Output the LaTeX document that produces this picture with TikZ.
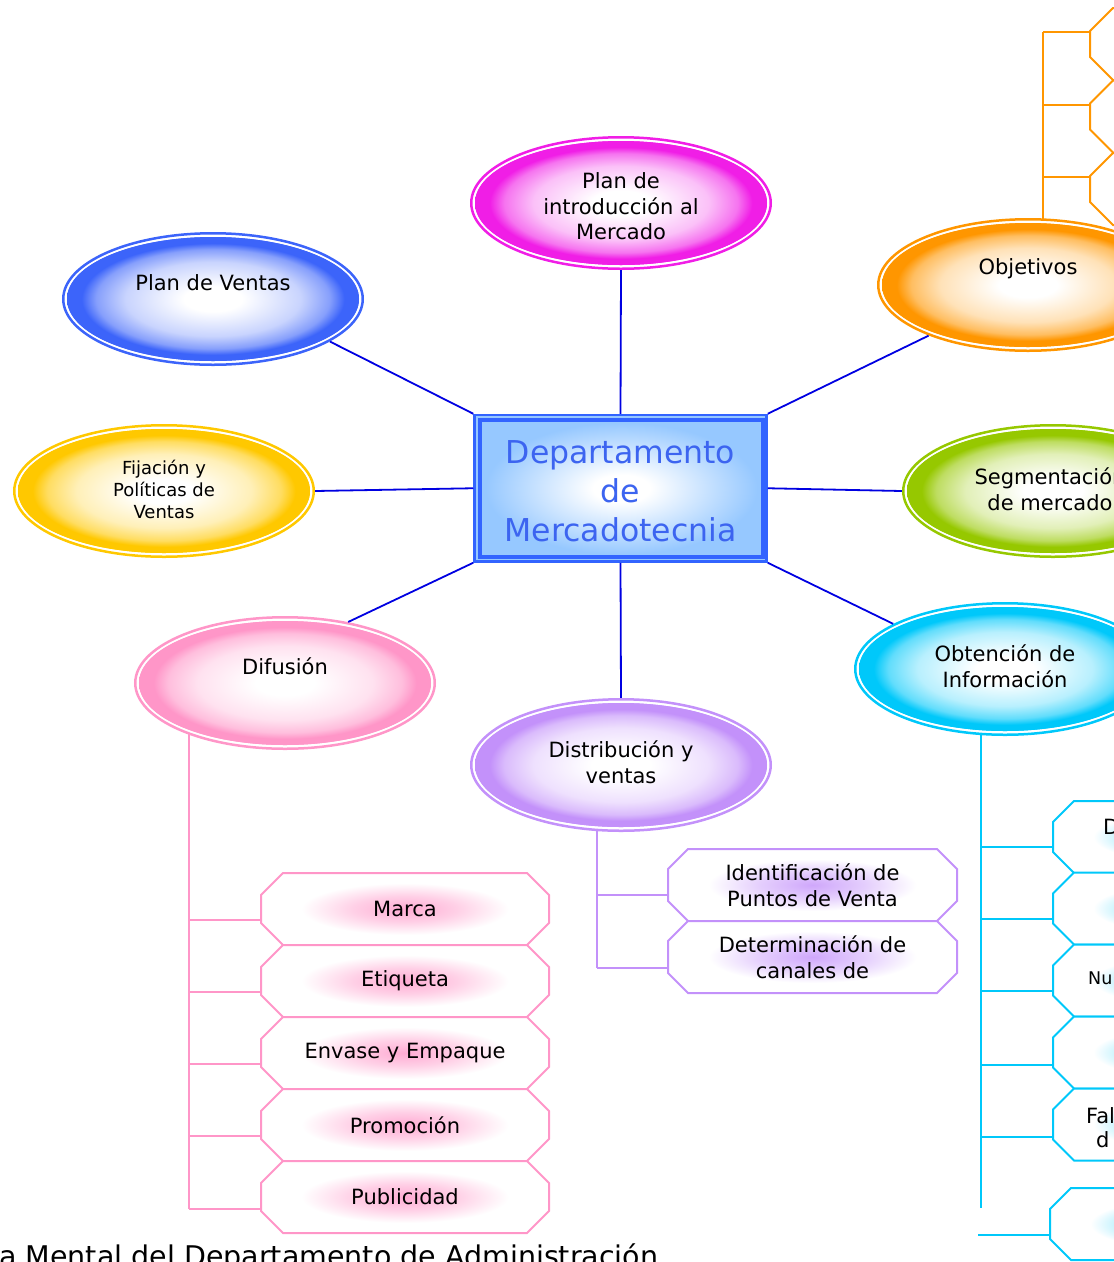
\documentclass[tikz,border=0pt]{standalone}
\usepackage{fontspec}
\setmainfont{DejaVu Sans}
\usetikzlibrary{shapes.geometric}
\definecolor{cMag}{RGB}{240,30,230}
\definecolor{cBlu}{RGB}{60,100,250}
\definecolor{cOra}{RGB}{255,150,0}
\definecolor{cYel}{RGB}{255,200,0}
\definecolor{cGre}{RGB}{150,200,0}
\definecolor{cPnk}{RGB}{255,150,200}
\definecolor{cPur}{RGB}{195,145,250}
\definecolor{cCya}{RGB}{0,200,250}
\definecolor{cLink}{RGB}{0,0,225}
\definecolor{cBoxLine}{RGB}{50,100,255}
\definecolor{cBoxFill}{RGB}{150,200,255}
\definecolor{cBoxText}{RGB}{60,100,240}
\newcommand\mkbub[1]{%
  \pgfdeclareradialshading{bub#1}{\pgfpoint{0bp}{0bp}}{color(0bp)=(white);color(5bp)=(white);color(15bp)=(#1!28!white);color(20bp)=(#1!62!white);color(22.5bp)=(#1);color(50bp)=(#1)}%
  \pgfdeclareradialshading{glow#1}{\pgfpoint{0bp}{0bp}}{color(0bp)=(#1!80!white);color(9bp)=(#1!45!white);color(18bp)=(white);color(50bp)=(white)}}
\mkbub{cMag}\mkbub{cBlu}\mkbub{cOra}\mkbub{cYel}\mkbub{cGre}\mkbub{cPnk}\mkbub{cPur}\mkbub{cCya}
\pgfdeclareradialshading{deptsh}{\pgfpoint{0bp}{0bp}}{color(0bp)=(white);color(5bp)=(white);color(24bp)=(cBoxFill);color(50bp)=(cBoxFill)}
\newcommand\bubble[4]{%
  \node[bubnode] (#1) at (#2,#3) {};
  \draw[#4, line width=2.5pt] (#2,#3) ellipse (149.75pt and 65.75pt);
  \shade[shading=bub#4] (#2,#3) ellipse (146pt and 62pt);
  \draw[#4, line width=3.5pt] (#2,#3) ellipse (144.25pt and 60.25pt);
}
% name, cx, cy, halfwidth, color, text, chamfer
\newcommand\octo[7]{%
  \shade[shading=glow#5]
    ({#2-#4+#7},{#3-36}) -- ({#2+#4-#7},{#3-36}) -- ({#2+#4},{#3-36+#7}) -- ({#2+#4},{#3+36-#7})
    -- ({#2+#4-#7},{#3+36}) -- ({#2-#4+#7},{#3+36}) -- ({#2-#4},{#3+36-#7}) -- ({#2-#4},{#3-36+#7}) -- cycle;
  \draw[#5, line width=2pt]
    ({#2-#4+#7},{#3-36}) -- ({#2+#4-#7},{#3-36}) -- ({#2+#4},{#3-36+#7}) -- ({#2+#4},{#3+36-#7})
    -- ({#2+#4-#7},{#3+36}) -- ({#2-#4+#7},{#3+36}) -- ({#2-#4},{#3+36-#7}) -- ({#2-#4},{#3-36+#7}) -- cycle;
  \node[boxtxt, minimum width={2*#4pt}, minimum height=72pt] (#1) at (#2,#3) {#6};
}
\begin{document}
\begin{tikzpicture}[x=1pt,y=-1pt,
  conn/.style={draw=cLink, line width=1.8pt},
  bubnode/.style={ellipse, minimum width=302pt, minimum height=134pt, inner sep=0pt},
  etext/.style={align=center, inner sep=0pt, font=\fontsize{21}{25.5}\selectfont},
  boxtxt/.style={align=center, inner sep=0pt, font=\fontsize{21}{25.5}\selectfont},
  trunk/.style={line width=2pt}
]
\useasboundingbox (0,0) rectangle (1114,1262);
\clip (0,0) rectangle (1114,1262);

% bubbles
\bubble{intro}{621}{203}{cMag}
\bubble{ventas}{213}{299}{cBlu}
\bubble{obj}{1028}{285}{cOra}
\bubble{fij}{164}{491}{cYel}
\bubble{seg}{1053}{491}{cGre}
\bubble{dif}{285}{683}{cPnk}
\bubble{dist}{621}{765}{cPur}
\bubble{obt}{1005}{669}{cCya}

\node[etext] (introT) at (621,206.5) {Plan de\\introducción al\\Mercado};
\node[etext] (ventasT) at (213,283) {Plan de Ventas};
\node[etext] (objT) at (1028,269) {Objetivos};
\node[align=center, inner sep=0pt, font=\fontsize{18}{22}\selectfont] (fijT) at (164,489) {Fijación y\\Políticas de\\Ventas};
\node[etext] (segT) at (1050,489) {Segmentación\\de mercado};
\node[etext] (difT) at (285,666) {Difusión};
\node[etext] (distT) at (621,762) {Distribución y\\ventas};
\node[etext] (obtT) at (1005,666) {Obtención de\\Información};

% central box
\node[draw=cBoxLine, line width=2.5pt, fill=cBoxFill, minimum width=292pt, minimum height=146.5pt, inner sep=0pt] (dept) at (620.5,488.25) {};
\shade[shading=deptsh] (480,420) rectangle (763,557);
\draw[cBoxLine, line width=3.3pt] (480,420) rectangle (763,557);
\node[text=cBoxText, align=center, inner sep=0pt, font=\fontsize{31.5}{39}\selectfont] (deptT) at (620.5,491) {Departamento\\de\\Mercadotecnia};

% connectors
\draw[conn] (dept.north) -- (intro.south);
\draw[conn] (dept.north west) -- (ventas.-20);
\draw[conn] (dept.north east) -- (obj.207);
\draw[conn] (dept.west) -- (fij.east);
\draw[conn] (dept.east) -- (seg.west);
\draw[conn] (dept.south west) -- (dif.44);
\draw[conn] (dept.south) -- (dist.north);
\draw[conn] (dept.south east) -- (obt.158);

% orange subtree
\coordinate (oa) at (1043,32);
\coordinate (ob) at (1043,105);
\coordinate (oc) at (1043,177);
\coordinate (oz) at (1043,220);
\draw[cOra, trunk] (oa) -- (oz);
\octo{o1}{1234}{44}{144}{cOra}{}{23}
\octo{o2}{1234}{116.5}{144}{cOra}{}{23}
\octo{o3}{1234}{189}{144}{cOra}{}{23}
\draw[cOra, trunk] (oa) -- (oa -| o1.west);
\draw[cOra, trunk] (ob) -- (ob -| o2.west);
\draw[cOra, trunk] (oc) -- (oc -| o3.west);

% pink subtree
\coordinate (pa) at (189,733);
\coordinate (p1) at (189,920);
\coordinate (p2) at (189,992);
\coordinate (p3) at (189,1064);
\coordinate (p4) at (189,1136);
\coordinate (p5) at (189,1209);
\draw[cPnk, trunk] (pa) -- (p5);
\octo{m1}{405}{909}{144}{cPnk}{Marca}{22}
\octo{m2}{405}{981}{144}{cPnk}{Etiqueta}{22}
\octo{m3}{405}{1053}{144}{cPnk}{Envase y Empaque}{22}
\octo{m4}{405}{1125}{144}{cPnk}{Promoción}{22}
\octo{m5}{405}{1197}{144}{cPnk}{Publicidad}{22}
\draw[cPnk, trunk] (p1) -- (p1 -| m1.west);
\draw[cPnk, trunk] (p2) -- (p2 -| m2.west);
\draw[cPnk, trunk] (p3) -- (p3 -| m3.west);
\draw[cPnk, trunk] (p4) -- (p4 -| m4.west);
\draw[cPnk, trunk] (p5) -- (p5 -| m5.west);

% purple subtree
\coordinate (ua) at (597,830);
\coordinate (u1) at (597,895);
\coordinate (u2) at (597,968);
\draw[cPur, trunk] (ua) -- (u2);
\octo{d1}{812.5}{885}{144.5}{cPur}{Identificación de\\Puntos de Venta}{20}
\octo{d2}{812.5}{957}{144.5}{cPur}{Determinación de\\canales de}{20}
\draw[cPur, trunk] (u1) -- (u1 -| d1.west);
\draw[cPur, trunk] (u2) -- (u2 -| d2.west);

% cyan subtree
\coordinate (ca) at (981,734);
\coordinate (c1) at (981,847);
\coordinate (c2) at (981,919);
\coordinate (c3) at (981,991);
\coordinate (c4) at (981,1065);
\coordinate (c5) at (981,1137);
\coordinate (cz) at (981,1208);
\coordinate (c6) at (978,1235);
\draw[cCya, trunk] (ca) -- (cz);
\octo{k1}{1197}{837}{144}{cCya}{}{21}
\octo{k2}{1197}{908.5}{144}{cCya}{}{21}
\octo{k3}{1197}{980.5}{144}{cCya}{}{21}
\octo{k4}{1197}{1052.5}{144}{cCya}{}{21}
\octo{k5}{1197}{1124.5}{144}{cCya}{}{21}
\octo{k6}{1194}{1224}{144}{cCya}{}{21}
\draw[cCya, trunk] (c1) -- (c1 -| k1.west);
\draw[cCya, trunk] (c2) -- (c2 -| k2.west);
\draw[cCya, trunk] (c3) -- (c3 -| k3.west);
\draw[cCya, trunk] (c4) -- (c4 -| k4.west);
\draw[cCya, trunk] (c5) -- (c5 -| k5.west);
\draw[cCya, trunk] (c6) -- (c6 -| k6.west);
\node[anchor=base west, inner sep=0pt, font=\fontsize{21}{25}\selectfont] (kD) at (1103,834) {D};
\node[anchor=base west, inner sep=0pt, font=\fontsize{17.5}{21}\selectfont] (kNu) at (1088,984) {Nu};
\node[anchor=base west, inner sep=0pt, font=\fontsize{21}{25}\selectfont] (kFal) at (1086,1123) {Fal};
\node[anchor=base west, inner sep=0pt, font=\fontsize{21}{25}\selectfont] (kd) at (1096,1147) {d};

% caption
\node[anchor=base west, inner sep=0pt, font=\fontsize{28.5}{30}\selectfont] (cap) at (-1,1266) {a Mental del Departamento de Administración};
\end{tikzpicture}
\end{document}
